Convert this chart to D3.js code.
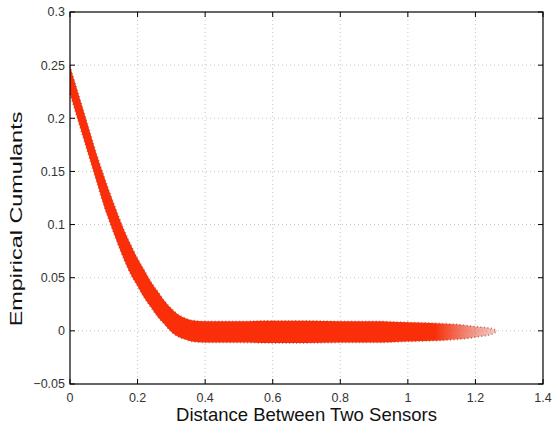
<!DOCTYPE html>
<html>
<head>
<meta charset="utf-8">
<script src="https://cdn.jsdelivr.net/npm/d3@7"></script>
<style>
  body { margin: 0; background: #fff; }
  svg { display: block; }
  text { font-family: "Liberation Sans", Arial, sans-serif; fill: #333; }
</style>
</head>
<body>
<svg id="chart" width="552" height="425"></svg>
<script>
// cloud of empirical cumulants, read as upper / lower envelope per distance
var distances = [0, 0.02, 0.04, 0.06, 0.08, 0.10, 0.12, 0.14, 0.16, 0.18, 0.20, 0.22, 0.24, 0.26, 0.28, 0.30,
                 0.32, 0.34, 0.36, 0.40, 0.50, 0.60, 0.70, 0.80, 0.90, 1.00, 1.10, 1.15, 1.20, 1.25, 1.265];
var upperCum = [0.249, 0.228, 0.207, 0.186, 0.165, 0.146, 0.128, 0.111, 0.095, 0.081, 0.068, 0.057, 0.046, 0.037, 0.028, 0.021,
                0.0155, 0.012, 0.010, 0.009, 0.009, 0.0095, 0.0095, 0.009, 0.009, 0.008, 0.007, 0.006, 0.004, 0.002, 0.000];
var lowerCum = [0.223, 0.202, 0.181, 0.160, 0.139, 0.118, 0.100, 0.083, 0.067, 0.053, 0.042, 0.031, 0.022, 0.013, 0.006, -0.001,
                -0.0055, -0.008, -0.010, -0.011, -0.011, -0.0115, -0.0115, -0.011, -0.011, -0.010, -0.009, -0.008, -0.006, -0.003, 0.000];

var xTicks = [0, 0.2, 0.4, 0.6, 0.8, 1, 1.2, 1.4];
var xTickLabels = ["0", "0.2", "0.4", "0.6", "0.8", "1", "1.2", "1.4"];
var yTicks = [-0.05, 0, 0.05, 0.1, 0.15, 0.2, 0.25, 0.3];
var yTickLabels = ["\u22120.05", "0", "0.05", "0.1", "0.15", "0.2", "0.25", "0.3"];

var margin = {left: 70, top: 12, right: 9, bottom: 41};
var svg = d3.select('#chart');
var width = 552 - margin.left - margin.right;
var height = 425 - margin.top - margin.bottom;

var x = d3.scaleLinear().domain([0, 1.4]).range([0, width]);
var y = d3.scaleLinear().domain([-0.05, 0.3]).range([height, 0]);

var g = svg.append('g').attr('transform', 'translate(' + margin.left + ',' + margin.top + ')');

// dotted grid
g.append('g').selectAll('line').data(xTicks.slice(1, -1)).enter().append('line')
  .attr('x1', function(d) { return x(d); }).attr('x2', function(d) { return x(d); })
  .attr('y1', 0).attr('y2', height)
  .attr('stroke', '#c4c4c4').attr('stroke-dasharray', '1,3');
g.append('g').selectAll('line').data(yTicks.slice(1, -1)).enter().append('line')
  .attr('y1', function(d) { return y(d); }).attr('y2', function(d) { return y(d); })
  .attr('x1', 0).attr('x2', width)
  .attr('stroke', '#c4c4c4').attr('stroke-dasharray', '1,3');

// the band
var band = distances.map(function(d, i) { return {d: d, hi: upperCum[i], lo: lowerCum[i]}; });

var grad = svg.append('defs').append('linearGradient')
  .attr('id', 'tail').attr('gradientUnits', 'userSpaceOnUse')
  .attr('x1', x(1.08)).attr('x2', x(1.265)).attr('y1', 0).attr('y2', 0);
grad.append('stop').attr('offset', 0).attr('stop-color', '#fa2e08').attr('stop-opacity', 1);
grad.append('stop').attr('offset', 1).attr('stop-color', '#d85a44').attr('stop-opacity', 0.3);

var area = d3.area()
  .x(function(d) { return x(d.d); })
  .y0(function(d) { return y(d.lo); })
  .y1(function(d) { return y(d.hi); })
  .curve(d3.curveMonotoneX);

g.append('path').datum(band)
  .attr('d', area)
  .attr('fill', 'url(#tail)');

// speckled edges of the cloud
var edgeHi = d3.line().x(function(d) { return x(d.d); }).y(function(d) { return y(d.hi); }).curve(d3.curveMonotoneX);
var edgeLo = d3.line().x(function(d) { return x(d.d); }).y(function(d) { return y(d.lo); }).curve(d3.curveMonotoneX);
[edgeHi, edgeLo].forEach(function(fn) {
  g.append('path').datum(band)
    .attr('d', fn)
    .attr('fill', 'none')
    .attr('stroke', '#a8402c')
    .attr('stroke-opacity', 0.7)
    .attr('stroke-width', 1.6)
    .attr('stroke-dasharray', '1,2.5');
});

// box with inward ticks
g.append('rect').attr('width', width).attr('height', height)
  .attr('fill', 'none').attr('stroke', '#000').attr('stroke-width', 1.2);

var tl = 5;
xTicks.forEach(function(t, i) {
  g.append('line').attr('x1', x(t)).attr('x2', x(t)).attr('y1', height).attr('y2', height - tl).attr('stroke', '#000');
  g.append('line').attr('x1', x(t)).attr('x2', x(t)).attr('y1', 0).attr('y2', tl).attr('stroke', '#000');
  g.append('text').attr('x', x(t)).attr('y', height + 18)
    .attr('text-anchor', 'middle').attr('font-size', 12.5).text(xTickLabels[i]);
});
yTicks.forEach(function(t, i) {
  g.append('line').attr('y1', y(t)).attr('y2', y(t)).attr('x1', 0).attr('x2', tl).attr('stroke', '#000');
  g.append('line').attr('y1', y(t)).attr('y2', y(t)).attr('x1', width).attr('x2', width - tl).attr('stroke', '#000');
  g.append('text').attr('x', -5).attr('y', y(t)).attr('dy', '0.35em')
    .attr('text-anchor', 'end').attr('font-size', 12.5).text(yTickLabels[i]);
});

// axis titles
g.append('text').attr('x', width / 2).attr('y', height + 37)
  .attr('text-anchor', 'middle').attr('font-size', 18.5).style('fill', '#111')
  .text('Distance Between Two Sensors');
svg.append('text')
  .attr('transform', 'translate(22,219) rotate(-90) scale(1.42,1)')
  .attr('text-anchor', 'middle').attr('font-size', 16.5).style('fill', '#111')
  .text('Empirical Cumulants');
</script>
</body>
</html>
